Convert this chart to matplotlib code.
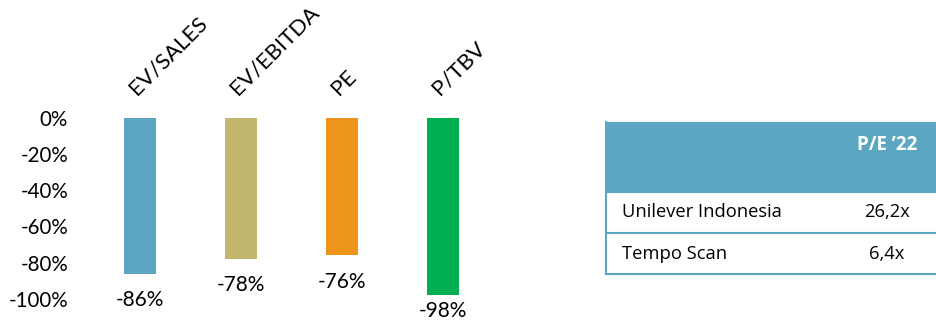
import matplotlib
matplotlib.use("Agg")
import matplotlib.pyplot as plt
from matplotlib.patches import Rectangle
from matplotlib.lines import Line2D

plt.rcParams['font.family'] = ['Lato', 'DejaVu Sans']

categories = ["EV/SALES", "EV/EBITDA", "PE", "P/TBV"]
values = [-86, -78, -76, -98]
colors = ["#5BA6C1", "#C2B66E", "#EF941B", "#00B050"]
yticks = [0, -20, -40, -60, -80, -100]

table_header = "P/E \u201922"
table_names = ["Unilever Indonesia", "Tempo Scan"]
table_values = ["26,2x", "6,4x"]

label_offsets = [-19, -19, -19, -11.5]

W, H = 937, 322
fig = plt.figure(figsize=(W / 100, H / 100), dpi=100)

# bar axes in pixel geometry
ax_l, ax_r = 75, 545
ax_top, ax_bot = 117.5, 299
ax = fig.add_axes([ax_l / W, (H - ax_bot) / H, (ax_r - ax_l) / W, (ax_bot - ax_top) / H])
unit = 101.0
x0 = 140.0
ax.set_xlim((ax_l - x0) / unit, (ax_r - x0) / unit)
ax.set_ylim(-100, 0)

xs = list(range(len(categories)))
ax.bar(xs, values, width=0.317, color=colors, zorder=2)
for s in ax.spines.values():
    s.set_visible(False)
ax.set_xticks([])
ax.set_yticks(yticks)
ax.set_yticklabels([f"{v}%" for v in yticks], fontsize=14.8, color="black")
ax.tick_params(axis='y', length=0, pad=5)

for i, (c, v) in enumerate(zip(categories, values)):
    ax.annotate(f"{v}%", xy=(i, v), xytext=(0, label_offsets[i]), textcoords="offset points",
                ha="center", va="center", fontsize=15, annotation_clip=False)
    ax.text(i - 0.03, 12, c, rotation=45, rotation_mode="anchor", ha="left",
            va="baseline", fontsize=16, clip_on=False)

# table in pixel coords
tax = fig.add_axes([0, 0, 1, 1], facecolor="none")
tax.set_xlim(0, W)
tax.set_ylim(H, 0)
tax.axis("off")
teal = "#5BA6C1"
left, right = 606, W + 10
top, hdr_bot, r1_bot, r2_bot = 122, 192, 233, 274
tax.add_patch(Rectangle((left, top), right - left, hdr_bot - top, facecolor=teal, edgecolor="none"))
for y in [hdr_bot, r1_bot, r2_bot]:
    tax.add_line(Line2D([left, right], [y, y], color=teal, lw=1.5))
tax.add_line(Line2D([left, left], [top, r2_bot], color=teal, lw=1.5))
val_x = 887
tax.text(val_x, 145, table_header, ha="center", va="center", fontsize=13.5,
         fontweight="bold", color="white", family=["Open Sans", "DejaVu Sans"])
for name, val, yc in zip(table_names, table_values, [212, 254]):
    tax.text(622, yc, name, ha="left", va="center", fontsize=13.2, color="black",
             family=["Open Sans", "DejaVu Sans"])
    tax.text(val_x, yc, val, ha="center", va="center", fontsize=13.2, color="black",
             family=["Open Sans", "DejaVu Sans"])

fig.savefig("out.png", dpi=100)
